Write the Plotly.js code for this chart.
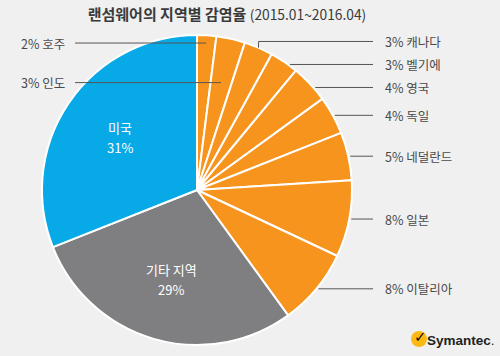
<!DOCTYPE html>
<html><head><meta charset="utf-8">
<script src="https://cdn.plot.ly/plotly-3.0.1.min.js"></script>
<style>html,body{margin:0;padding:0;background:#f0f0f0}</style>
</head><body><div id="chart" style="width:500px;height:356px"></div>
<script>
// Data (clockwise from 12 o'clock)
const regions = ['호주','인도','캐나다','벨기에','영국','독일','네덜란드','일본','이탈리아','기타 지역','미국'];
const shares  = [2, 3, 3, 3, 4, 4, 5, 8, 8, 29, 31];
const sliceColors = ['#f7941d','#f7941d','#f7941d','#f7941d','#f7941d','#f7941d','#f7941d','#f7941d','#f7941d','#7f7f82','#07a9e7'];
const insideLabeled = ['기타 지역','미국'];
const leftLabeled = ['호주','인도'];

const W = 500, H = 356;
const cx = 197, cy = 190, R = 155;
const px = x => x / W, py = y => 1 - y / H;

const total = shares.reduce((a,b)=>a+b,0);
let acc = 0;
const mids = shares.map(v => { const m = (acc + v/2) / total * 360; acc += v; return m; });

const shapes = [], annotations = [];
const lineColor = '#555555';
const labelFont = {family:'Noto Sans CJK KR, Noto Sans, sans-serif', size:12.5, color:'#4a4a4a'};
const inFont = {family:'Noto Sans CJK KR, Noto Sans, sans-serif', size:13, color:'#ffffff'};
const leftDepth = {'호주':0.95, '인도':0.71};

const right = [];
regions.forEach((name,i) => {
  const a = mids[i] * Math.PI / 180;
  if (insideLabeled.includes(name)) {
    const f = 0.6;
    const x0 = cx + f*R*Math.sin(a), y0 = cy - f*R*Math.cos(a);
    annotations.push({xref:'paper', yref:'paper', x:px(x0), y:py(y0-10), xanchor:'center', yanchor:'middle', showarrow:false, text:name, font:inFont});
    annotations.push({xref:'paper', yref:'paper', x:px(x0), y:py(y0+10), xanchor:'center', yanchor:'middle', showarrow:false, text:shares[i]+'%', font:inFont});
    return;
  }
  const txt = shares[i] + '% ' + name;
  if (leftLabeled.includes(name)) {
    const d = leftDepth[name] * R;
    const x0 = cx + d*Math.sin(a), y0 = cy - d*Math.cos(a);
    shapes.push({type:'line', xref:'paper', yref:'paper', x0:px(75), x1:px(x0), y0:py(y0), y1:py(y0), line:{color:lineColor, width:1}});
    annotations.push({xref:'paper', yref:'paper', x:px(67), y:py(y0), xanchor:'right', yanchor:'middle', showarrow:false, text:txt, font:labelFont});
  } else {
    right.push({txt, ex: cx + R*Math.sin(a), ey: cy - R*Math.cos(a), y: cy - R*Math.cos(a)});
  }
});
const gap = 23;
for (let it = 0; it < 60; it++) {
  for (let j = 1; j < right.length; j++) {
    const g = right[j].y - right[j-1].y;
    if (g < gap) { const d = (gap - g)/2; right[j-1].y -= d; right[j].y += d; }
  }
}
right.forEach(r => {
  let xs;
  if (r.y < r.ey - 1) {
    xs = r.ex;
    shapes.push({type:'line', xref:'paper', yref:'paper', x0:px(r.ex), x1:px(r.ex), y0:py(r.y), y1:py(r.ey), line:{color:lineColor, width:1}});
  } else {
    xs = cx + Math.sqrt(Math.max(0, R*R - (r.y-cy)*(r.y-cy))) + 2;
  }
  shapes.push({type:'line', xref:'paper', yref:'paper', x0:px(xs), x1:px(373), y0:py(r.y), y1:py(r.y), line:{color:lineColor, width:1}});
  annotations.push({xref:'paper', yref:'paper', x:px(383), y:py(r.y), xanchor:'left', yanchor:'middle', showarrow:false, text:r.txt, font:labelFont});
});

// Symantec logo
shapes.push({type:'circle', xref:'paper', yref:'paper', x0:px(411), x1:px(427), y0:py(347), y1:py(331), fillcolor:'#fdb913', line:{width:0}, layer:'above'});
annotations.push({xref:'paper', yref:'paper', x:px(420), y:py(337), xanchor:'center', yanchor:'middle', showarrow:false, text:'<b>✓</b>', font:{family:'DejaVu Sans', size:15, color:'#111'}});
annotations.push({xref:'paper', yref:'paper', x:px(497), y:py(340), xanchor:'right', yanchor:'middle', showarrow:false, text:'<b>Symantec</b>.', font:{family:'Liberation Sans, sans-serif', size:13.5, color:'#222'}});

const trace = {
  type:'pie', labels:regions, values:shares, sort:false, direction:'clockwise', rotation:0,
  marker:{colors:sliceColors, line:{color:'#ffffff', width:2}},
  textinfo:'none', hoverinfo:'none', showlegend:false,
  domain:{x:[px(cx-R), px(cx+R)], y:[py(cy+R), py(cy-R)]}
};

const layout = {
  width:W, height:H, margin:{l:0,r:0,t:0,b:0},
  paper_bgcolor:'#f0f0f0', plot_bgcolor:'#f0f0f0',
  title:{text:'<b>랜섬웨어의 지역별 감염율</b> <span style="font-size:13.8px">(2015.01~2016.04)</span>', x:0.454, xanchor:'center', y:py(15), yanchor:'middle',
    font:{family:'Noto Sans CJK KR, sans-serif', size:15, color:'#3a3a3a'}},
  shapes:shapes, annotations:annotations, showlegend:false
};
Plotly.newPlot('chart', [trace], layout, {staticPlot:true});
</script></body></html>
